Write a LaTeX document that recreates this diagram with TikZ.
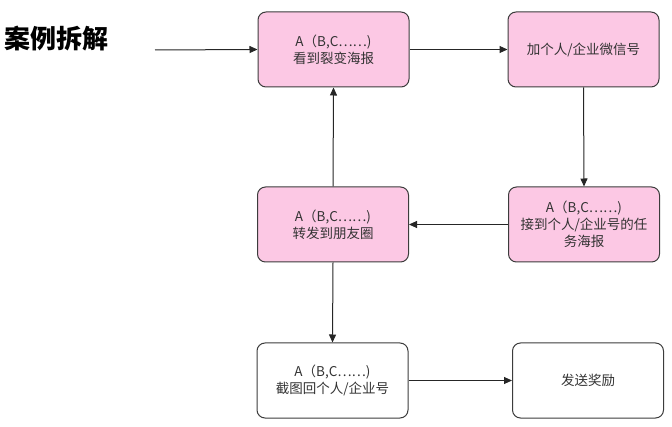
\documentclass[tikz,border=0pt]{standalone}
\usepackage{fontspec}
\setmainfont{Noto Sans CJK SC}
\usetikzlibrary{arrows.meta}
\definecolor{boxpink}{RGB}{252,200,228}
\definecolor{boxline}{RGB}{60,60,60}
\tikzset{
  x=1pt,y=-1pt,
  flowbox/.style={draw=boxline,line width=1pt,rounded corners=8pt,minimum width=151pt,minimum height=75pt,inner sep=2pt,align=center,font=\fontsize{13.5}{17}\selectfont,text=black!80},
  pinkbox/.style={flowbox,fill=boxpink},
  whitebox/.style={flowbox,fill=white},
  conn/.style={draw=black!85,line width=1pt,-{Triangle[length=8pt,width=7pt]}}
}
\begin{document}
\begin{tikzpicture}
\useasboundingbox (0,0) rectangle (672,427);
\node[font=\fontsize{26}{30}\selectfont\bfseries,anchor=west,inner sep=0pt] (title) at (4,38.5) {案例拆解};
\coordinate (start) at (155,50);
\node[pinkbox] (b1) at (333.5,49.5) {A（B,C……)\\看到裂变海报};
\node[pinkbox] (b2) at (583.5,49.5) {加个人/企业微信号};
\node[pinkbox] (b3) at (584,224.5) {A（B,C……)\\接到个人/企业号的任\\务海报};
\node[pinkbox] (b4) at (333,224.5) {A（B,C……)\\转发到朋友圈};
\node[whitebox] (b5) at (332.5,380.5) {A（B,C……)\\截图回个人/企业号};
\node[whitebox] (b6) at (588,380.5) {发送奖励};
\draw[conn] (start) -- (b1.west);
\draw[conn] (b1.east) -- (b2.west);
\draw[conn] (b2.south) -- (b3.north);
\draw[conn] (b3.west) -- (b4.east);
\draw[conn] (b4.north) -- (b1.south);
\draw[conn] (b4.south) -- (b5.north);
\draw[conn] (b5.east) -- (b6.west);
\end{tikzpicture}
\end{document}
